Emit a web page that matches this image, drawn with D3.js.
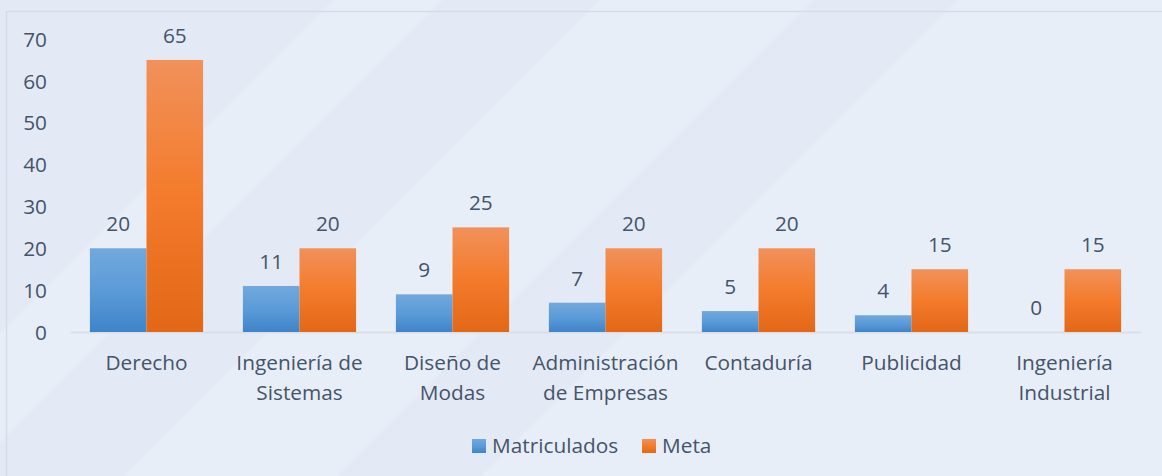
<!DOCTYPE html>
<html>
<head>
<meta charset="utf-8">
<script src="https://cdn.jsdelivr.net/npm/d3@7"></script>
<style>
  html, body { margin: 0; padding: 0; background: #e8eef7; }
  svg { display: block; }
  text { font-family: "Open Sans", sans-serif; fill: #44546a; }
</style>
</head>
<body>
<div id="chart"></div>
<script>
// data
var categories = [
    ["Derecho"],
    ["Ingeniería de", "Sistemas"],
    ["Diseño de", "Modas"],
    ["Administración", "de Empresas"],
    ["Contaduría"],
    ["Publicidad"],
    ["Ingeniería", "Industrial"]
];
var seriesNames = ["Matriculados", "Meta"];
var matriculados = [20, 11, 9, 7, 5, 4, 0];
var meta = [65, 20, 25, 20, 20, 15, 15];
var yTicks = [0, 10, 20, 30, 40, 50, 60, 70];

var W = 1162, H = 476;
var FS = 20.8;
var svg = d3.select("#chart").append("svg")
    .attr("width", W)
    .attr("height", H);

var defs = svg.append("defs");
// gradients per bar (top light -> bottom darker)
var grads = [
    {id: "gBlue", stops: ["#72a8dd", "#5b9bd8", "#3f84c9"]},
    {id: "gOrange", stops: ["#f1915b", "#f47b2b", "#e26818"]}
];
grads.forEach(function(g) {
    var lg = defs.append("linearGradient")
        .attr("id", g.id)
        .attr("x1", 0).attr("y1", 0)
        .attr("x2", 0).attr("y2", 1);
    g.stops.forEach(function(c, i) {
        lg.append("stop").attr("offset", (i * 50) + "%").attr("stop-color", c);
    });
});

/*----- BACKGROUND -----*/
svg.append("rect").attr("width", W).attr("height", H).attr("fill", "#e8eef7");
// diagonal bands, 45 degrees, given as x+y ranges
var bands = [
    {c0: -100, c1: 333, fill: "#e4eaf5"},
    {c0: 443, c1: 600, fill: "#e4eaf5"},
    {c0: 813, c1: 957, fill: "#e4eaf5"}
];
bands.forEach(function(b) {
    svg.append("polygon")
        .attr("points", [[b.c0, 0], [b.c1, 0], [b.c1 - H, H], [b.c0 - H, H]].join(" "))
        .attr("fill", b.fill);
});
// frame
svg.append("path")
    .attr("d", "M6.5," + H + " V11.5 H" + W)
    .attr("fill", "none")
    .attr("stroke", "#d6dce7")
    .attr("stroke-width", 1.5);

/*----- SCALES -----*/
var x0 = d3.scaleBand()
    .domain(d3.range(categories.length))
    .range([70, 1141])
    .paddingInner(0.26)
    .paddingOuter(0.13);
var x1 = d3.scaleBand()
    .domain(seriesNames)
    .range([0, x0.bandwidth()]);
var y = d3.scaleLinear()
    .domain([0, 70])
    .range([332, 39]);

/*----- AXES -----*/
var yAxis = d3.axisLeft(y).tickValues(yTicks).tickSize(0).tickPadding(0);
svg.append("g")
    .attr("transform", "translate(47,0)")
    .call(yAxis)
    .call(function(g) { g.select(".domain").remove(); })
    .selectAll("text")
    .attr("font-size", FS)
    .attr("dy", "0.35em")
    .style("font-family", "'Open Sans', sans-serif")
    .attr("fill", "#44546a");

var xAxis = d3.axisBottom(x0).tickSize(0).tickFormat("");
var xg = svg.append("g")
    .attr("transform", "translate(0," + y(0) + ")")
    .call(xAxis);
xg.select(".domain")
    .attr("stroke", "#d9dee7")
    .attr("stroke-width", 2);
xg.selectAll(".tick text").remove();
xg.selectAll(".tick").each(function(i) {
    var t = d3.select(this).append("text")
        .attr("text-anchor", "middle")
        .attr("font-size", FS)
        .attr("fill", "#44546a");
    categories[i].forEach(function(line, k) {
        t.append("tspan")
            .attr("x", 0)
            .attr("y", 38 + k * 30)
            .text(line);
    });
});

/*----- BARS -----*/
var rows = categories.map(function(c, i) {
    return [
        {key: "Matriculados", value: matriculados[i]},
        {key: "Meta", value: meta[i]}
    ];
});
var fills = {"Matriculados": "url(#gBlue)", "Meta": "url(#gOrange)"};

var groups = svg.selectAll(".grp")
    .data(rows)
    .enter().append("g")
    .attr("class", "grp")
    .attr("transform", function(d, i) { return "translate(" + x0(i) + ",0)"; });

groups.selectAll("rect")
    .data(function(d) { return d.filter(function(v) { return v.value > 0; }); })
    .enter().append("rect")
    .attr("x", function(d) { return x1(d.key); })
    .attr("y", function(d) { return y(d.value); })
    .attr("width", x1.bandwidth())
    .attr("height", function(d) { return y(0) - y(d.value); })
    .attr("fill", function(d) { return fills[d.key]; });

groups.selectAll(".lbl")
    .data(function(d) { return d; })
    .enter().append("text")
    .attr("class", "lbl")
    .attr("text-anchor", "middle")
    .attr("font-size", FS)
    .attr("x", function(d) { return x1(d.key) + x1.bandwidth() / 2; })
    .attr("y", function(d) { return y(d.value) - 17; })
    .text(function(d) { return d.value; });

/*----- LEGEND -----*/
var legendX = [472, 642];
var legend = svg.selectAll(".leg")
    .data(seriesNames)
    .enter().append("g")
    .attr("class", "leg")
    .attr("transform", function(d, i) { return "translate(" + legendX[i] + ",439)"; });
legend.append("rect")
    .attr("width", 14)
    .attr("height", 14)
    .attr("fill", function(d) { return fills[d]; });
legend.append("text")
    .attr("x", 20)
    .attr("y", 14)
    .attr("font-size", FS)
    .text(function(d) { return d; });
</script>
</body>
</html>
